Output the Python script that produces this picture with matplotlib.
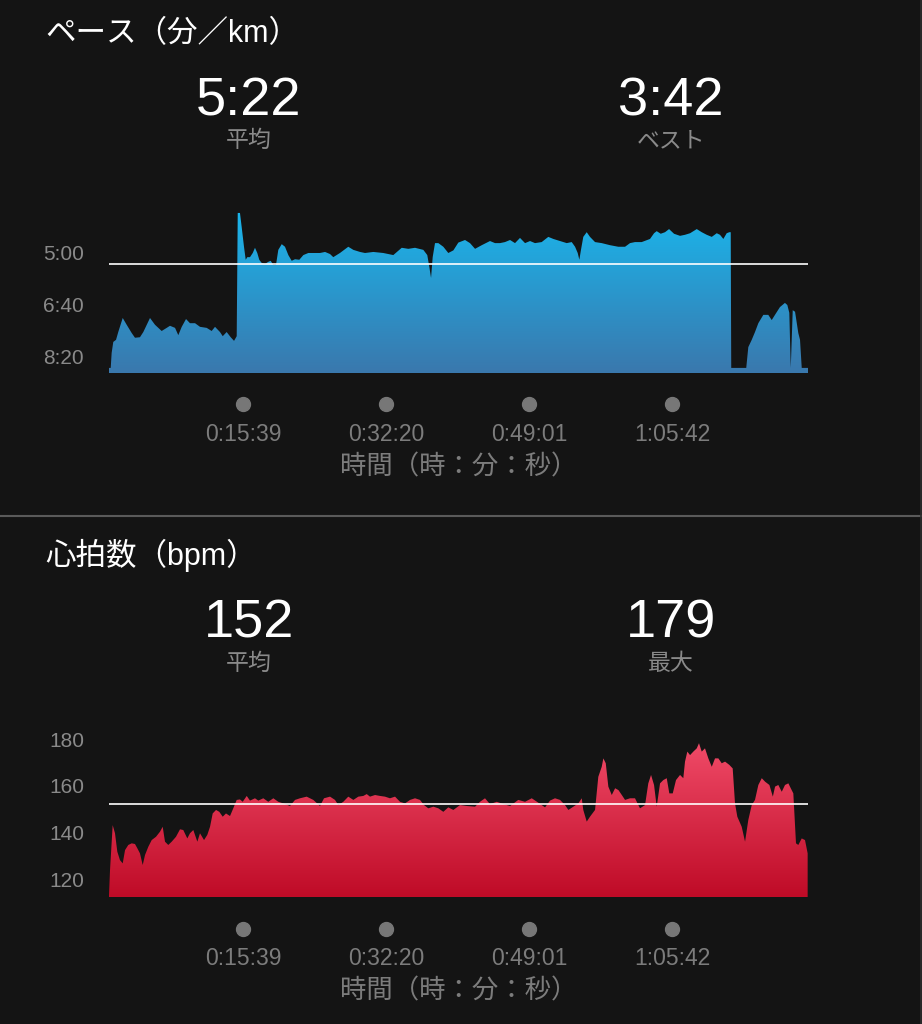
import numpy as np
import matplotlib
matplotlib.use('Agg')
import matplotlib.pyplot as plt
from matplotlib.colors import LinearSegmentedColormap
from matplotlib.lines import Line2D

plt.rcParams['font.family'] = ['Liberation Sans', 'Noto Sans CJK JP', 'DejaVu Sans']

W, H = 922, 1024
BG = '#141414'
GREY = '#8a8a8a'

# elapsed time (minutes) and pace (seconds per km)
pace_t = [0, 0.20, 0.31, 0.50, 0.82, 1.08, 1.60, 2.06, 2.65, 3.03, 3.61, 4.00, 4.78, 5.36, 6.14,
          6.73, 7.11, 7.70, 8.08, 8.48, 8.98, 9.44, 10.03, 10.61, 11.39, 11.97, 12.36, 12.94,
          13.26, 13.72, 14.19, 14.58, 14.89, 15.01, 15.27, 15.47, 15.74, 15.94, 16.13, 16.44,
          16.76, 17.02, 17.29, 17.52, 17.80, 18.19, 18.57, 18.85, 19.16, 19.47, 19.74, 20.14,
          20.52, 20.91, 21.30, 21.69, 22.19, 22.66, 23.24, 23.82, 24.60, 25.19, 25.77, 26.15,
          26.93, 27.90, 28.49, 29.27, 29.85, 30.82, 31.98, 33.15, 34.13, 34.90, 35.68, 36.65,
          37.11, 37.35, 37.55, 37.74, 38.01, 38.40, 38.98, 39.56, 40.15, 40.73, 41.51, 42.09,
          42.68, 43.46, 44.42, 45.01, 45.59, 46.17, 46.76, 47.34, 47.92, 48.51, 49.09, 49.67,
          50.45, 51.22, 51.81, 52.59, 53.37, 53.95, 54.34, 54.65, 54.84, 55.03, 55.30, 55.70,
          56.08, 56.67, 57.45, 58.42, 59.38, 60.17, 60.75, 61.33, 62.11, 63.08, 63.55, 63.86,
          64.33, 64.83, 65.30, 65.88, 66.58, 67.16, 67.75, 68.53, 69.11, 69.69, 70.28, 70.86,
          71.24, 71.63, 72.02, 72.33, 72.49, 72.55, 74.30, 74.54, 74.94, 75.32, 75.71, 76.29,
          76.87, 77.27, 77.65, 78.23, 78.81, 79.09, 79.32, 79.49, 79.72, 79.99, 80.37, 80.57,
          80.77, 81.50]
pace_s = [521, 521, 492, 471, 467, 452, 425, 438, 454, 463, 462, 452, 425, 438, 450,
          444, 440, 444, 458, 442, 427, 435, 435, 442, 444, 450, 442, 452,
          460, 452, 462, 469, 460, 223, 223, 250, 288, 313, 308, 308,
          300, 290, 300, 313, 319, 321, 317, 315, 323, 323, 294, 283,
          288, 304, 315, 312, 313, 304, 300, 300, 300, 298, 302, 308,
          300, 288, 294, 298, 300, 298, 300, 304, 290, 292, 290, 294,
          304, 327, 348, 308, 281, 281, 288, 300, 295, 280, 275, 281,
          292, 285, 277, 281, 281, 279, 275, 281, 271, 281, 277, 281,
          279, 269, 273, 277, 281, 279, 288, 300, 313, 294, 269, 260,
          269, 279, 281, 285, 288, 288, 281, 279, 279, 273, 262, 258,
          263, 260, 254, 263, 267, 265, 262, 254, 260, 265, 269, 262,
          265, 273, 262, 260, 260, 521, 521, 481, 467, 452, 435, 419,
          419, 429, 419, 404, 396, 400, 415, 521, 410, 413, 454, 467,
          521, 521]

# elapsed time (minutes) and heart rate (bpm)
hr_t = [0, 0.12, 0.43, 0.70, 0.97, 1.28, 1.60, 1.87, 2.25, 2.65, 3.03, 3.30, 3.61, 3.93, 4.20,
        4.58, 4.98, 5.48, 5.95, 6.26, 6.53, 6.91, 7.31, 7.81, 8.28, 8.66, 9.13, 9.44, 9.83,
        10.30, 10.61, 11.08, 11.46, 11.78, 12.09, 12.48, 12.86, 13.26, 13.64, 14.11, 14.49,
        14.89, 15.27, 15.59, 16.06, 16.44, 17.02, 17.41, 17.99, 18.57, 19.16, 19.74, 20.32,
        21.10, 21.69, 22.27, 23.05, 23.82, 24.60, 25.07, 25.77, 26.35, 26.74, 27.32, 27.90,
        28.49, 29.07, 29.65, 30.05, 30.43, 31.02, 31.60, 32.18, 32.76, 33.35, 33.93, 34.51,
        35.10, 35.68, 36.26, 36.73, 37.23, 37.82, 38.40, 38.98, 39.56, 40.15, 40.93, 41.71,
        42.68, 43.26, 43.84, 44.42, 45.21, 45.98, 46.76, 47.72, 48.51, 49.29, 50.06, 50.84,
        51.42, 52.00, 52.59, 53.17, 53.56, 54.14, 54.72, 55.12, 55.30, 55.70, 56.08, 56.67,
        57.05, 57.45, 57.64, 57.92, 58.22, 58.62, 59.01, 59.40, 59.79, 60.17, 60.75, 61.33,
        61.91, 62.50, 62.88, 63.20, 63.55, 63.86, 64.25, 64.63, 65.03, 65.33, 65.73, 66.11,
        66.58, 66.96, 67.16, 67.43, 67.75, 68.13, 68.53, 68.79, 69.11, 69.49, 69.88, 70.28,
        70.66, 71.05, 71.44, 71.83, 72.33, 72.72, 72.99, 73.26, 73.77, 74.16, 74.54, 74.94,
        75.32, 75.71, 76.11, 76.50, 77.00, 77.40, 77.66, 78.04, 78.44, 78.82, 79.21, 79.49,
        79.79, 80.10, 80.37, 80.77, 81.15, 81.46]
hr_bpm = [113, 123.9, 143.1, 139.6, 131.7, 128.1, 126.7, 132.4, 134.6, 135.3, 135.0, 133.2, 131.0, 126.0, 130.3,
          133.8, 136.7, 138.1, 140.3, 142.4, 136.0, 134.6, 136.0, 138.1, 141.3, 141.0, 137.4, 139.6, 141.0,
          136.0, 139.6, 136.7, 138.9, 142.4, 148.1, 149.6, 148.8, 146.7, 148.1, 147.0, 150.3,
          153.9, 154.1, 153.1, 155.6, 153.6, 154.6, 153.6, 154.6, 153.1, 154.6, 153.1, 152.4,
          151.3, 153.9, 154.6, 155.3, 153.9, 151.3, 154.6, 155.3, 153.9, 151.7, 153.1, 155.3,
          153.9, 155.3, 155.6, 156.4, 155.3, 156.0, 155.6, 155.3, 154.6, 155.3, 153.1, 152.4,
          153.9, 154.6, 153.9, 151.7, 150.3, 151.0, 150.3, 148.8, 150.7, 149.6, 151.7, 151.3,
          151.0, 153.1, 154.6, 152.1, 153.1, 152.1, 151.3, 153.9, 153.1, 154.6, 152.7, 150.7,
          153.6, 154.6, 153.9, 151.7, 149.6, 151.0, 152.4, 154.6, 149.6, 144.6, 146.7, 149.6,
          163.8, 168.1, 171.7, 169.6, 159.6, 156.0, 158.9, 158.1, 156.0, 153.9, 154.6, 154.6,
          150.3, 151.7, 161.0, 164.6, 160.3, 151.0, 161.0, 162.4, 163.2, 156.7, 156.7, 162.4,
          164.6, 163.2, 170.3, 174.6, 173.1, 174.6, 176.0, 178.2, 174.6, 176.0, 171.7, 168.1,
          171.7, 171.7, 169.6, 170.3, 168.9, 167.4, 152.4, 146.7, 142.4, 136.0, 145.3, 151.7,
          153.9, 160.3, 163.2, 161.7, 160.3, 155.3, 159.6, 160.3, 157.4, 160.3, 161.0, 158.9,
          156.7, 135.3, 134.6, 137.4, 136.7, 131.0]

tick_t = [15 + 39 / 60, 32 + 20 / 60, 49 + 1 / 60, 65 + 42 / 60]
tick_lbl = ['0:15:39', '0:32:20', '0:49:01', '1:05:42']

pace_ticks = [300, 400, 500]
pace_lbl = ['5:00', '6:40', '8:20']
hr_ticks = [120, 140, 160, 180]
hr_lbl = ['120', '140', '160', '180']

T_END = 81.5


def box(l, t, r, b):
    return [l / W, 1 - b / H, (r - l) / W, (b - t) / H]


def panel(ax, t, v, ylim, c_top, c_bot, avg, yticks, ylabels):
    ax.set_facecolor(BG)
    coll = ax.fill_between(t, v, ylim[0], facecolor='none', linewidth=0)
    cmap = LinearSegmentedColormap.from_list('g', [c_top, c_bot])
    grad = np.linspace(0, 1, 256).reshape(-1, 1)
    im = ax.imshow(grad, cmap=cmap, aspect='auto', origin='upper',
                   extent=(0, T_END, ylim[0], ylim[1]), zorder=1)
    im.set_clip_path(coll.get_paths()[0], transform=ax.transData)
    ax.axhline(avg, color='white', lw=1.4, alpha=0.85, zorder=3)
    ax.set_xlim(0, T_END)
    ax.set_ylim(*ylim)
    for s in ax.spines.values():
        s.set_visible(False)
    ax.set_yticks(yticks, ylabels)
    ax.set_xticks(tick_t, tick_lbl)
    ax.tick_params(axis='y', length=0, pad=18, labelsize=15, labelcolor=GREY)
    ax.tick_params(axis='x', length=0, pad=36, labelsize=16.5, labelcolor='#7c7c7c')
    ax.plot(tick_t, [-0.185] * 4, 'o', ms=10, color='#777777',
            transform=ax.get_xaxis_transform(), clip_on=False)
    ax.set_xlabel('時間（時：分：秒）', fontsize=19, color='#7c7c7c', labelpad=6)


fig = plt.figure(figsize=(W / 100, H / 100), dpi=100, facecolor=BG)

ax1 = fig.add_axes(box(109, 205, 808, 373))
panel(ax1, pace_t, pace_s, (530.8, 207.7), '#19b8ee', '#3a78ad', 322,
      pace_ticks, pace_lbl)

ax2 = fig.add_axes(box(109, 725, 808, 897))
panel(ax2, hr_t, hr_bpm, (112.3, 186.0), '#f5526f', '#bf0b27', 152,
      hr_ticks, hr_lbl)


def ftext(x, y, s, **kw):
    fig.text(x / W, 1 - y / H, s, va='baseline', **kw)


ftext(45, 42, 'ペース（分／km）', fontsize=22, color='white', ha='left')
ftext(249, 116, '5:22', fontsize=39, color='white', ha='center')
ftext(249, 147, '平均', fontsize=16.5, color=GREY, ha='center')
ftext(671, 116, '3:42', fontsize=39, color='white', ha='center')
ftext(671, 147, 'ベスト', fontsize=16.5, color=GREY, ha='center')

ftext(45, 565, '心拍数（bpm）', fontsize=22, color='white', ha='left')
ftext(249, 638, '152', fontsize=39, color='white', ha='center')
ftext(249, 670, '平均', fontsize=16.5, color=GREY, ha='center')
ftext(671, 638, '179', fontsize=39, color='white', ha='center')
ftext(671, 670, '最大', fontsize=16.5, color=GREY, ha='center')

fig.add_artist(Line2D([0, 1], [1 - 515.5 / H] * 2, color='#5a5a5a', lw=1.5))
fig.add_artist(Line2D([920.5 / W] * 2, [0, 1], color='#2e2e2e', lw=1.2))

fig.savefig('out.png', dpi=100, facecolor=BG)
